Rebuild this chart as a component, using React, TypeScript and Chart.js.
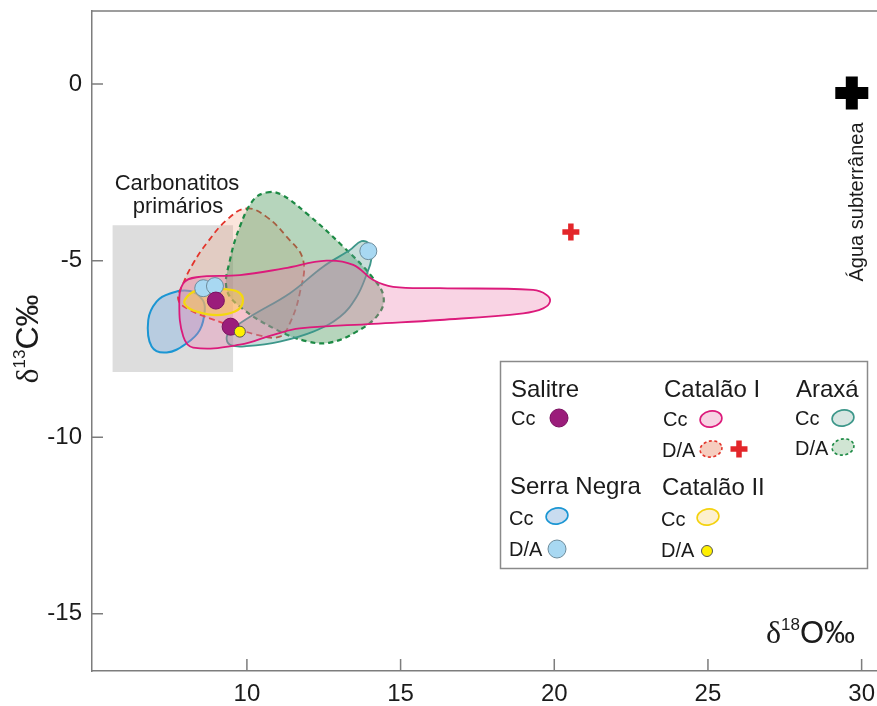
import React, { useEffect, useRef } from 'react';
import { Chart, registerables } from 'chart.js';

Chart.register(...registerables);

const SANS = "'Liberation Sans', Arial, Helvetica, sans-serif";
const SERIF = "'Liberation Serif', 'Times New Roman', serif";
const AXIS_GREY = '#7d7d7d';
const INK = '#1b1b1b';

// Axis extents and tick positions (δ18O on x, δ13C on y, both in ‰)
const X_RANGE: [number, number] = [4.96, 30.5];
const Y_RANGE: [number, number] = [-16.62, 2.07];
const X_TICKS = [10, 15, 20, 25, 30];
const Y_TICKS = [0, -5, -10, -15];

type Pt = [number, number];

// Outlined compositional fields
const PRIMARY_BOX: Pt[] = [[5.63, -4.0], [9.55, -4.0], [9.55, -8.15], [5.63, -8.15]];

const SERRA_NEGRA_CC: Pt[] = [
  [7.5, -5.93], [8.15, -5.86], [8.55, -6.1], [8.63, -6.4], [8.47, -6.96], [8.04, -7.34],
  [7.39, -7.6], [6.9, -7.43], [6.79, -6.68], [7.06, -6.16],
];

const CATALAO_I_DA_FIELD: Pt[] = [
  [9.99, -3.52], [10.64, -3.76], [11.29, -4.32], [11.83, -4.98], [11.72, -5.92], [11.4, -6.77],
  [11.07, -7.15], [10.32, -7.1], [9.23, -6.77], [8.15, -6.4], [7.77, -6.11], [7.93, -5.64],
  [8.25, -5.08], [8.69, -4.51], [9.34, -3.85],
];

const ARAXA_DA: Pt[] = [
  [10.64, -3.07], [11.1, -3.12], [11.94, -3.66], [13.13, -4.6], [14.11, -5.5], [14.45, -6.05],
  [14.25, -6.55], [13.57, -7.01], [12.7, -7.32], [11.94, -7.28], [10.97, -6.96], [9.77, -6.3],
  [9.34, -5.8], [9.45, -4.98], [9.77, -4.04], [10.21, -3.28],
];

const ARAXA_CC: Pt[] = [
  [13.73, -4.45], [14.0, -4.55], [14.05, -4.95], [13.89, -5.4], [13.57, -6.02], [13.03, -6.59],
  [12.16, -7.01], [11.07, -7.29], [9.99, -7.42], [9.5, -7.4], [9.34, -7.22], [9.45, -7.0],
  [10.1, -6.59], [11.4, -5.92], [12.48, -5.17], [13.35, -4.7],
];

const CATALAO_I_CC: Pt[] = [
  [7.8, -6.21], [7.93, -5.64], [8.36, -5.47], [9.77, -5.41], [11.2, -5.22], [12.59, -5.0],
  [13.46, -5.12], [14.11, -5.55], [14.76, -5.74], [16.28, -5.78], [19.31, -5.83], [19.75, -5.97],
  [19.86, -6.16], [19.64, -6.35], [18.99, -6.49], [16.28, -6.68], [14.11, -6.79], [11.72, -6.92],
  [10.86, -7.1], [9.77, -7.38], [8.25, -7.46], [7.93, -7.15],
];

const CATALAO_II_CC: Pt[] = [
  [7.98, -6.11], [8.36, -5.85], [9.34, -5.81], [9.77, -5.92], [9.86, -6.21], [9.61, -6.44],
  [9.01, -6.54], [8.36, -6.44], [8.04, -6.3],
];

// Individual analyses
const SERRA_NEGRA_DA: Pt[] = [[8.58, -5.78], [8.96, -5.72], [13.95, -4.73]];
const SALITRE_CC: Pt[] = [[8.99, -6.13], [9.47, -6.87]];
const CATALAO_II_DA: Pt[] = [[9.77, -7.01]];
const CATALAO_I_DA: Pt[] = [[20.54, -4.19]];
const AGUA_SUBTERRANEA: Pt[] = [[29.68, -0.25]];

const xy = (pts: Pt[]) => pts.map(([x, y]) => ({ x, y }));

function field(label: string, pts: Pt[], border: string, fill: string, width: number, dash: number[], tension = 0.4) {
  return {
    label,
    data: xy(pts),
    showLine: true,
    fill: 'shape',
    borderColor: border,
    backgroundColor: fill,
    borderWidth: width,
    borderDash: dash,
    tension,
    pointRadius: 0,
    pointHoverRadius: 0,
  };
}

function marker(label: string, pts: Pt[], style: string, radius: number, fill: string, border: string, bw: number) {
  return {
    label,
    data: xy(pts),
    showLine: false,
    pointStyle: style,
    pointRadius: radius,
    pointHoverRadius: radius,
    pointBackgroundColor: fill,
    pointBorderColor: border,
    pointBorderWidth: bw,
  };
}

type Part = { t: string; f: string; dy?: number };

function drawRich(ctx: CanvasRenderingContext2D, x: number, y: number, parts: Part[], align: 'left' | 'center') {
  let total = 0;
  const widths = parts.map((p) => {
    ctx.font = p.f;
    const w = ctx.measureText(p.t).width;
    total += w;
    return w;
  });
  let cx = align === 'center' ? x - total / 2 : x;
  ctx.textAlign = 'left';
  ctx.textBaseline = 'alphabetic';
  parts.forEach((p, i) => {
    ctx.font = p.f;
    ctx.fillText(p.t, cx, y + (p.dy || 0));
    cx += widths[i];
  });
}

function blob(ctx: CanvasRenderingContext2D, cx: number, cy: number, fill: string, stroke: string, dashed: boolean) {
  ctx.save();
  ctx.beginPath();
  ctx.ellipse(cx, cy, 11, 8, -0.18, 0, Math.PI * 2);
  ctx.fillStyle = fill;
  ctx.fill();
  ctx.lineWidth = 1.6;
  ctx.strokeStyle = stroke;
  ctx.setLineDash(dashed ? [3, 2.5] : []);
  ctx.stroke();
  ctx.restore();
}

function dot(ctx: CanvasRenderingContext2D, cx: number, cy: number, r: number, fill: string, stroke: string) {
  ctx.beginPath();
  ctx.arc(cx, cy, r, 0, Math.PI * 2);
  ctx.fillStyle = fill;
  ctx.fill();
  ctx.lineWidth = 1;
  ctx.strokeStyle = stroke;
  ctx.stroke();
}

function plus(ctx: CanvasRenderingContext2D, cx: number, cy: number, half: number, thick: number, color: string) {
  ctx.fillStyle = color;
  ctx.fillRect(cx - half, cy - thick / 2, half * 2, thick);
  ctx.fillRect(cx - thick / 2, cy - half, thick, half * 2);
}

const decorations = {
  id: 'decorations',
  // Field outlines are closed loops so the spline wraps round smoothly.
  afterDatasetUpdate(chart: any, args: any) {
    const ds = chart.data.datasets[args.index];
    const line = args.meta.dataset;
    if (ds && ds.fill === 'shape' && line) {
      line._loop = true;
      line._fullLoop = true;
    }
  },
  afterDraw(chart: any) {
    const { ctx, chartArea: a } = chart;
    const xs = chart.scales.x;
    const ys = chart.scales.y;
    ctx.save();

    // frame top and inward tick marks
    ctx.strokeStyle = AXIS_GREY;
    ctx.lineWidth = 1.5;
    ctx.beginPath();
    ctx.moveTo(a.left, a.top);
    ctx.lineTo(a.right, a.top);
    xs.ticks.forEach((t: any) => {
      const px = xs.getPixelForValue(t.value);
      ctx.moveTo(px, a.bottom);
      ctx.lineTo(px, a.bottom - 12);
    });
    ys.ticks.forEach((t: any) => {
      const py = ys.getPixelForValue(t.value);
      ctx.moveTo(a.left, py);
      ctx.lineTo(a.left + 11, py);
    });
    ctx.stroke();

    ctx.fillStyle = INK;

    // primary carbonatite box label
    ctx.font = `22px ${SANS}`;
    ctx.textAlign = 'center';
    ctx.textBaseline = 'alphabetic';
    ctx.fillText('Carbonatitos', 177, 190);
    ctx.fillText('primários', 178, 213);

    // groundwater label, written upwards
    ctx.save();
    ctx.translate(853, 202);
    ctx.rotate(-Math.PI / 2);
    ctx.font = `20px ${SANS}`;
    ctx.textAlign = 'center';
    ctx.fillText('Água subterrânea', 0, 10);
    ctx.restore();

    // axis titles
    ctx.save();
    ctx.translate(27, 339);
    ctx.rotate(-Math.PI / 2);
    drawRich(ctx, 0, 11, [
      { t: 'δ', f: `32px ${SERIF}` },
      { t: '13', f: `17px ${SANS}`, dy: -13 },
      { t: 'C‰', f: `32px ${SANS}` },
    ], 'center');
    ctx.restore();

    drawRich(ctx, 766, 643, [
      { t: 'δ', f: `32px ${SERIF}` },
      { t: '18', f: `17px ${SANS}`, dy: -13 },
      { t: 'O‰', f: `31px ${SANS}` },
    ], 'left');

    // legend panel
    ctx.fillStyle = '#ffffff';
    ctx.fillRect(500, 361, 368, 208);
    ctx.strokeStyle = '#8a8a8a';
    ctx.lineWidth = 1.5;
    ctx.strokeRect(500.5, 361.5, 367, 207);

    ctx.fillStyle = INK;
    ctx.textAlign = 'left';
    ctx.textBaseline = 'alphabetic';
    ctx.font = `24px ${SANS}`;
    ctx.fillText('Salitre', 511, 397);
    ctx.fillText('Catalão I', 664, 397);
    ctx.fillText('Araxá', 796, 397);
    ctx.fillText('Serra Negra', 510, 494);
    ctx.fillText('Catalão II', 662, 495);

    ctx.font = `20px ${SANS}`;
    ctx.fillText('Cc', 511, 425);
    ctx.fillText('Cc', 663, 426);
    ctx.fillText('D/A', 662, 457);
    ctx.fillText('Cc', 795, 425);
    ctx.fillText('D/A', 795, 455);
    ctx.fillText('Cc', 509, 525);
    ctx.fillText('D/A', 509, 556);
    ctx.fillText('Cc', 661, 526);
    ctx.fillText('D/A', 661, 557);

    dot(ctx, 559, 418, 9, '#9b1d7b', '#7a1060');
    blob(ctx, 711, 419, '#f7d3e3', '#dc1a7b', false);
    blob(ctx, 711, 449, '#f6cdbf', '#e3342b', true);
    plus(ctx, 739, 449, 8.5, 5.5, '#e3262a');
    blob(ctx, 843, 418, '#d7e6e2', '#3d978a', false);
    blob(ctx, 843, 447, '#d0e5d3', '#1d8a45', true);
    blob(ctx, 557, 516, '#c9dcf0', '#1b96d3', false);
    dot(ctx, 557, 549, 9, '#a8d8f2', '#6d8c9c');
    blob(ctx, 708, 517, '#fdf0cf', '#f4d20f', false);
    dot(ctx, 707, 551, 5.5, '#fff000', '#555555');

    ctx.restore();
  },
};

export default function App() {
  const canvasRef = useRef<HTMLCanvasElement | null>(null);

  useEffect(() => {
    if (!canvasRef.current) return;
    Chart.defaults.font.family = SANS;
    Chart.defaults.color = INK;

    const datasets: any[] = [
      field('Carbonatitos primários', PRIMARY_BOX, 'rgba(0,0,0,0)', '#dddddd', 0, [], 0),
      field('Serra Negra Cc', SERRA_NEGRA_CC, '#1b96d3', 'rgba(140,185,228,0.45)', 2, []),
      field('Catalão I D/A', CATALAO_I_DA_FIELD, '#e3342b', 'rgba(242,160,130,0.28)', 1.8, [6, 4]),
      field('Araxá D/A', ARAXA_DA, '#1d8a45', 'rgba(80,155,95,0.42)', 2.2, [5, 4]),
      field('Araxá Cc', ARAXA_CC, '#3d978a', 'rgba(95,160,150,0.35)', 1.8, []),
      field('Catalão I Cc', CATALAO_I_CC, '#dc1a7b', 'rgba(236,120,170,0.32)', 1.8, []),
      field('Catalão II Cc', CATALAO_II_CC, '#f4d80f', 'rgba(255,205,70,0.45)', 2.2, []),
      marker('Serra Negra D/A', SERRA_NEGRA_DA, 'circle', 8.5, '#a8d8f2', '#6d8c9c', 1),
      marker('Salitre Cc', SALITRE_CC, 'circle', 8.5, '#9b1d7b', '#7a1060', 1),
      marker('Catalão II D/A', CATALAO_II_DA, 'circle', 5.5, '#fff000', '#555555', 1),
      marker('Catalão I D/A', CATALAO_I_DA, 'cross', 8.5, '#e3262a', '#e3262a', 5.5),
      marker('Água subterrânea', AGUA_SUBTERRANEA, 'cross', 16.5, '#000000', '#000000', 12),
    ];
    // later entries are drawn on top
    datasets.forEach((d, i) => { d.order = datasets.length - i; });

    const chart = new Chart(canvasRef.current, {
      type: 'scatter',
      data: { datasets },
      options: {
        animation: false,
        responsive: false,
        events: [],
        layout: { autoPadding: false, padding: { top: 11, left: 0, right: 0, bottom: 0 } },
        plugins: { legend: { display: false }, tooltip: { enabled: false } },
        scales: {
          x: {
            type: 'linear',
            min: X_RANGE[0],
            max: X_RANGE[1],
            grid: { display: false, drawTicks: false },
            border: { display: true, color: AXIS_GREY, width: 1.5 },
            afterBuildTicks: (s: any) => { s.ticks = X_TICKS.map((value) => ({ value })); },
            afterFit: (s: any) => { s.height = 35; s.paddingLeft = 0; s.paddingRight = 0; },
            ticks: { font: { size: 24, family: SANS }, color: INK, padding: 9, maxRotation: 0, callback: (v: any) => String(v) },
          },
          y: {
            type: 'linear',
            min: Y_RANGE[0],
            max: Y_RANGE[1],
            grid: { display: false, drawTicks: false },
            border: { display: true, color: AXIS_GREY, width: 1.5 },
            afterBuildTicks: (s: any) => { s.ticks = Y_TICKS.map((value) => ({ value })); },
            afterFit: (s: any) => { s.width = 92; s.paddingTop = 0; s.paddingBottom = 0; },
            ticks: { font: { size: 24, family: SANS }, color: INK, padding: 10, callback: (v: any) => String(v) },
          },
        },
      } as any,
      plugins: [decorations],
    });
    return () => chart.destroy();
  }, []);

  return (
    <div style={{ position: 'fixed', left: 0, top: 0, width: 877, height: 706, background: '#ffffff' }}>
      <canvas ref={canvasRef} width={877} height={706} style={{ width: 877, height: 706, display: 'block' }} />
    </div>
  );
}
